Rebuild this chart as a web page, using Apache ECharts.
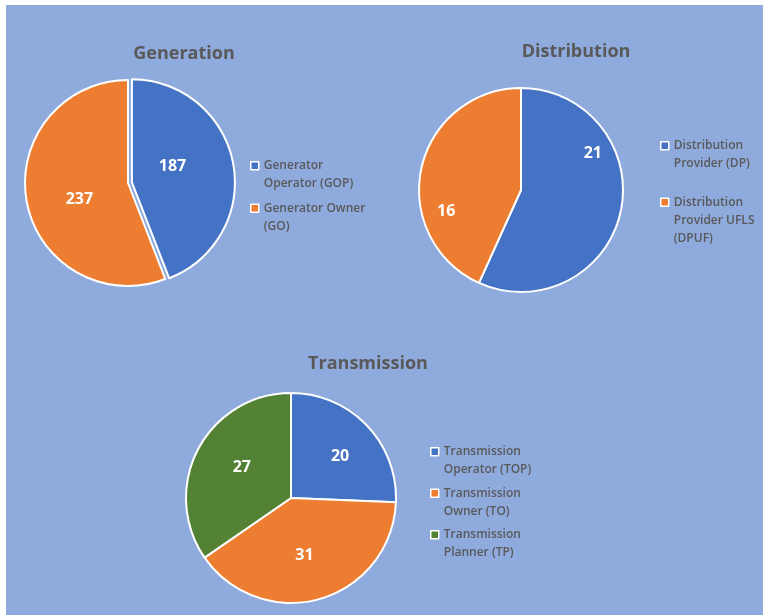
<!DOCTYPE html>
<html>
<head>
<meta charset="utf-8">
<script src="https://cdn.jsdelivr.net/npm/echarts@6/dist/echarts.min.js"></script>
<style>
  html, body { margin: 0; padding: 0; background: #ffffff; }
  #frame { position: absolute; left: 6px; top: 5px; width: 757px; height: 610px; background: #8faadc; }
  #chart { position: absolute; left: 0; top: 0; width: 766px; height: 615px; }
</style>
</head>
<body>
<div id="frame"></div>
<div id="chart"></div>
<script>
// Chart titles
const titles = ['Generation', 'Distribution', 'Transmission'];

// Generation entities
const genNames = ['Generator\nOperator (GOP)', 'Generator Owner\n(GO)'];
const genValues = [187, 237];

// Distribution entities
const distNames = ['Distribution\nProvider (DP)', 'Distribution\nProvider UFLS\n(DPUF)'];
const distValues = [21, 16];

// Transmission entities
const transNames = ['Transmission\nOperator (TOP)', 'Transmission\nOwner (TO)', 'Transmission\nPlanner (TP)'];
const transValues = [20, 31, 27];

const BLUE = '#4472c4', ORANGE = '#ed7d31', GREEN = '#548235';
const TEXT = '#595959';
const FONT = '"Open Sans", "Noto Sans", sans-serif';
const LINE = 18;   // legend line height
const SWATCH = 8;  // legend swatch size

// nudges for the value labels inside the slices
const genLabelShift = [[-13, -6], [5, 6]];
const distLabelShift = [[19, -48], [-22, 33]];
const transLabelShift = [[9, -3], [-2, 4], [0, -5]];

// Swatch drawn as a path inside a box as tall as the legend entry, so it
// sits level with the first line of a wrapped name.
function swatchIcon(lines, boxLines) {
  const h = boxLines * LINE;
  const firstLineMid = (h - lines * LINE) / 2 + LINE / 2;
  const y0 = firstLineMid - SWATCH / 2;
  return 'path://M0,0L0,0M0,' + y0 + 'H' + SWATCH + 'V' + (y0 + SWATCH) + 'H0Z' +
         'M0,' + h + 'L0,' + h;
}

function legend(names, left, top, gap) {
  const boxLines = Math.max(...names.map(n => n.split('\n').length));
  return {
    orient: 'vertical', left: left, top: top, padding: 0,
    itemWidth: SWATCH, itemHeight: boxLines * LINE, itemGap: gap,
    selectedMode: false,
    itemStyle: { borderColor: '#ffffff', borderWidth: 1.5 },
    textStyle: { color: TEXT, fontSize: 12, fontWeight: 600, fontFamily: FONT, lineHeight: LINE },
    data: names.map(n => ({ name: n, icon: swatchIcon(n.split('\n').length, boxLines) }))
  };
}

function pie(names, values, colors, center, radius, shifts, extra) {
  return Object.assign({
    type: 'pie',
    center: center,
    radius: radius,
    startAngle: 90,
    clockwise: true,
    animation: false,
    silent: true,
    itemStyle: { borderColor: '#ffffff', borderWidth: 2 },
    label: { show: true, position: 'inside', formatter: '{c}', color: '#ffffff', fontSize: 16, fontWeight: 'bold', fontFamily: FONT },
    labelLine: { show: false },
    emphasis: { disabled: true },
    data: names.map((n, i) => ({
      name: n, value: values[i],
      itemStyle: { color: colors[i] },
      label: { offset: shifts[i] },
      select: { label: { offset: shifts[i] } }
    }))
  }, extra || {});
}

const genSeries = pie(genNames, genValues, [BLUE, ORANGE], [128, 183], 103, genLabelShift,
  { selectedMode: 'single', selectedOffset: 4 });
genSeries.data[0].selected = true;

const distSeries = pie(distNames, distValues, [BLUE, ORANGE], [521, 190], 102, distLabelShift);
const transSeries = pie(transNames, transValues, [BLUE, ORANGE, GREEN], [291, 498], 105, transLabelShift);

function titleText(text, x, y) {
  return {
    type: 'text', x: x, y: y, silent: true,
    style: { text: text, fill: TEXT, font: 'bold 18px ' + FONT, textAlign: 'center', textVerticalAlign: 'middle' }
  };
}

const chart = echarts.init(document.getElementById('chart'), null, { renderer: 'canvas' });
chart.setOption({
  backgroundColor: 'transparent',
  animation: false,
  graphic: [
    titleText(titles[0], 184, 54),
    titleText(titles[1], 576, 52),
    titleText(titles[2], 368, 364)
  ],
  legend: [
    legend(genNames, 250, 156, 5),
    legend(distNames, 660, 127, 10),
    legend(transNames, 430, 442, 4)
  ],
  series: [genSeries, distSeries, transSeries]
});
</script>
</body>
</html>
